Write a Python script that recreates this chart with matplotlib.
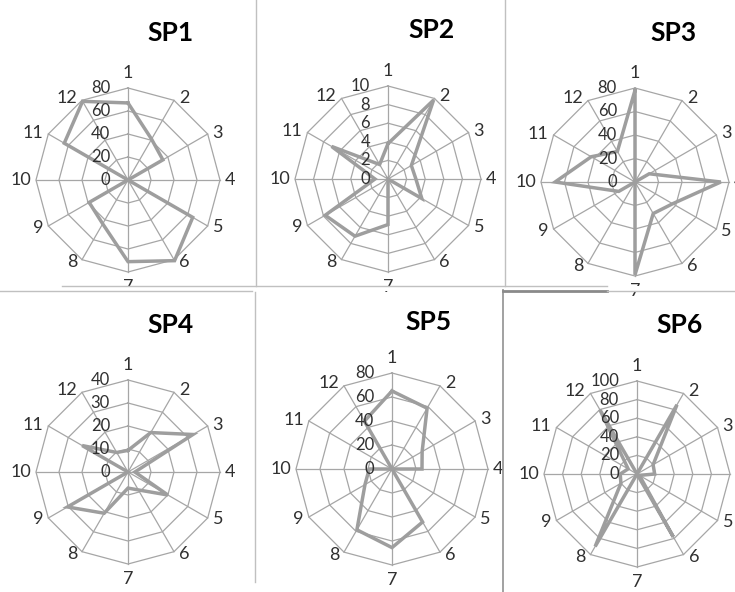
import matplotlib

matplotlib.use("Agg")

import matplotlib.pyplot as plt
import numpy as np
from matplotlib.lines import Line2D
from matplotlib.patches import Rectangle

plt.rcParams["font.family"] = ["Lato", "DejaVu Sans"]

# data
categories = ["1", "2", "3", "4", "5", "6", "7", "8", "9", "10", "11", "12"]
titles = ["SP1", "SP2", "SP3", "SP4", "SP5", "SP6"]
sp1 = [67, 41, 35, 0, 65, 81, 71, 44, 39, 0, 64, 79]
sp2 = [3.8, 9.8, 2.9, 3.0, 4.2, 0, 4.9, 7.1, 7.8, 1.4, 7.0, 1.8]
sp3 = [78, 0, 14, 73, 37, 31, 79, 0, 16, 68, 43, 30]
sp4 = [9.4, 19.8, 32.6, 3, 20, 9, 7, 20.7, 30.4, 0, 23, 9.8]
sp5 = [65, 58.5, 29, 25, 0, 51, 65.5, 58.5, 26, 19, 0, 46]
sp6 = [0, 86, 20, 19, 3, 78, 0, 90, 20, 18, 11, 80]
ring_max = [80, 10, 80, 40, 80, 100]
ring_step = [20, 2, 20, 10, 20, 20]

W, H = 735, 592
# panel centres / radius / title position in pixels
centers = [(128, 180), (388, 179), (635, 182), (128, 472), (392, 469), (637, 474)]
radii = [92, 93, 94, 92, 96, 93]
title_pos = [(170, 33), (432, 30), (673, 33), (170, 325), (428, 322), (680, 325)]

GRID = "#a6a6a6"
LINE = "#9e9e9e"
TXT = "#303030"

fig = plt.figure(figsize=(W / 100, H / 100), dpi=100)
fig.patch.set_facecolor("white")

series = [sp1, sp2, sp3, sp4, sp5, sp6]
theta = np.linspace(0, 2 * np.pi, len(categories), endpoint=False)
theta_c = np.append(theta, theta[0])

for k, vals in enumerate(series):
    cx, cy = centers[k]
    R = radii[k]
    ax = fig.add_axes([(cx - R) / W, 1 - (cy + R) / H, 2 * R / W, 2 * R / H], projection="polar")
    ax.set_theta_offset(np.pi / 2)
    ax.set_theta_direction(-1)
    rmax = ring_max[k]
    ax.set_ylim(0, rmax)
    ax.axis("off")

    levels = np.arange(ring_step[k], rmax + ring_step[k] / 2, ring_step[k])
    for lv in levels:
        ax.plot(theta_c, [lv] * len(theta_c), color=GRID, lw=0.9, clip_on=False)
    for t in theta:
        ax.plot([t, t], [0, rmax], color=GRID, lw=0.9, clip_on=False)

    v = np.append(vals, vals[0])
    ax.plot(theta_c, v, color=LINE, lw=2.5, clip_on=False, solid_joinstyle="miter")

    for lv in np.append(0, levels):
        label = f"{lv:g}"
        ax.annotate(label, xy=(0, lv), xytext=(-18, 0), textcoords="offset pixels",
                    ha="right", va="center", fontsize=12, color=TXT, annotation_clip=False)

    # category labels sit just outside each vertex, anchored like Excel does
    for t, c in zip(theta, categories):
        s, co = np.sin(t), np.cos(t)
        if abs(s) < 0.1:
            ha, va = "center", ("bottom" if co > 0 else "top")
            off = (0, 7 * np.sign(co))
        else:
            ha, va = ("left" if s > 0 else "right"), "center"
            off = (5 * np.sign(s), 3 * co)
        ax.annotate(c, xy=(t, rmax), xytext=off, textcoords="offset pixels", ha=ha, va=va,
                    fontsize=13, color=TXT, annotation_clip=False)

    tx, ty = title_pos[k]
    fig.text(tx / W, 1 - ty / H, titles[k], ha="center", va="center", fontsize=19,
             fontweight="bold", color="black")


def px_line(x0, y0, x1, y1, color="#c0c0c0", lw=1.0):
    fig.lines.append(Line2D([x0 / W, x1 / W], [1 - y0 / H, 1 - y1 / H], transform=fig.transFigure,
                            color=color, lw=lw, zorder=5))


# white strip where the top screenshots were cut off
fig.patches.append(Rectangle((0, 1 - 291 / H), 1, 5 / H, transform=fig.transFigure,
                             facecolor="white", edgecolor="none", zorder=4))

px_line(62, 286, 607, 286)
px_line(0, 291, 252, 291)
px_line(256, 0, 256, 286)
px_line(255, 292, 255, 582)
px_line(505, 0, 505, 286)
px_line(503, 290, 503, 592, color="#9a9a9a", lw=1.3)
px_line(503, 291, 607, 291, color="#8a8a8a", lw=2.0)
px_line(607, 291, 735, 291)

fig.savefig("out.png", dpi=100, facecolor="white")
